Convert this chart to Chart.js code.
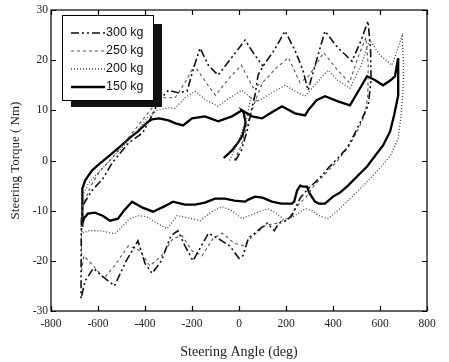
<!DOCTYPE html>
<html>
<head>
<meta charset="utf-8">
<script src="https://cdn.jsdelivr.net/npm/chart.js@4.4.1/dist/chart.umd.min.js"></script>
<style>
  body { margin: 0; background: #fff; }
</style>
</head>
<body>
<canvas id="chart-torque" width="449" height="362"></canvas>
<script>
// steering angle (deg) / steering torque (Nm), one closed loop per load
const angle300 = [-15, 10, 35, 55, 68, 81, 102, 150, 196, 238, 272, 294, 330, 366, 420, 481, 520, 549,
  560, 562, 550, 520, 494, 460, 421, 380, 353, 320, 294, 260, 225, 200, 170, 150, 120, 80, 40, 17, 0,
  -40, -90, -130, -160, -196, -230, -260, -290, -330, -370, -400, -430, -480, -530, -570, -620, -655, -672,
  -672, -671, -665, -626, -579, -540, -500, -470, -410, -370, -340, -300, -260, -221, -196, -166, -130, -89, -40, 26, 60, 102];
const torque300 = [0, 2, 6, 10.4, 13, 17, 18.8, 22, 25.8, 22, 18, 14, 20, 25.8, 22.5, 19.8, 24, 27.8,
  22, 16, 11, 8, 5.5, 2.5, 0.5, -1.5, -3, -4.5, -5.6, -7.5, -11, -12, -12.5, -14, -12.5, -14, -15.5, -19, -19.5,
  -17, -15.5, -14.5, -17, -20, -17, -14, -15, -20, -22.5, -20.5, -16, -20, -25, -23.5, -21.5, -24, -27.5,
  -20, -12, -9, -6, -3.6, -0.5, 1.8, 3.5, 5.5, 9, 12, 14, 13.5, 13.8, 18, 22.4, 19, 17, 20, 24, 21.5, 18.8];

const angle250 = [-20, 10, 40, 70, 100, 160, 210, 260, 300, 360, 420, 470, 510, 540,
  550, 548, 535, 505, 470, 420, 370, 320, 290, 250, 210, 160, 110, 60, 20, -20, -70, -110, -157, -200,
  -242, -280, -330, -380, -420, -470, -530, -575, -620, -660, -670,
  -670, -665, -630, -590, -540, -480, -420, -370, -330, -272, -230, -190, -140, -100, -40, 10, 60, 100];
const torque250 = [0, 3, 8, 12, 15.5, 18.5, 20.5, 15.5, 17, 21.5, 18, 15.5, 21, 24.5,
  19, 13, 9, 6, 3, 0, -2.5, -5, -7, -9, -11.5, -12.5, -13, -15, -17, -16.5, -14.5, -15.5, -19, -18,
  -15, -15.5, -19, -21, -18, -17, -21, -23.5, -21, -19, -22,
  -14, -9, -5, -2, 0.5, 4, 7.5, 10.5, 12.5, 12.5, 15.5, 19, 15.5, 13, 16.5, 19, 14.5, 15.5];

const angle200 = [-40, 0, 30, 50, 81, 140, 196, 240, 281, 330, 379, 420, 472, 520, 556, 600, 651, 694,
  700, 698, 690, 677, 645, 609, 540, 464, 420, 379, 340, 311, 281, 238, 196, 160, 123, 70, 13, -30,
  -72, -115, -166, -210, -264, -306, -350, -392, -430, -464, -528, -591, -640, -668,
  -669, -664, -640, -600, -560, -500, -440, -390, -350, -300, -272, -230, -187, -140, -89, -40, 13, 50, 81];
const torque200 = [0, 4, 8, 12.5, 11.8, 13.5, 15, 13.8, 12.8, 15.5, 18, 16, 14.4, 19, 24, 21, 19, 24.8,
  19, 14.4, 9, 4.4, 1, -1, -4.5, -8, -10, -11.6, -11, -10, -9.6, -11, -12, -10.5, -9.6, -10.5, -11.6, -10,
  -9.2, -10.2, -12, -11.5, -11, -13.6, -12.5, -11.2, -11, -11.6, -14.6, -14, -14, -14.5,
  -10, -7, -4.5, -2.5, -0.5, 2.5, 5.5, 8.5, 10, 10.5, 10.4, 12.5, 13.8, 12, 10.8, 12.5, 14, 12.5, 11.8];

const angle150 = [-65, -30, -5, 15, 28, 20, 13, 55, 98, 140, 183, 238, 281, 294, 330, 366, 421, 472, 510, 545,
  580, 613, 645, 664, 677,
  678, 677, 660, 643, 613, 580, 545, 500, 464, 430, 400, 366, 340, 323, 300, 289, 272, 260, 247, 235, 225,
  180, 140, 100, 68, 40, 26, -20, -60, -102, -145, -187, -230, -281, -320, -366, -410, -455, -490, -515,
  -549, -580, -613, -643, -660, -668,
  -668, -665, -655, -626, -590, -550, -500, -465, -430, -390, -370, -340, -300, -270, -238, -200, -145, -89, -30, 13];
const torque150 = [0.5, 2, 3.5, 5, 7.5, 9.5, 10, 8.8, 8.4, 9.6, 10.8, 9.4, 9, 10, 12, 12.8, 11.8, 11, 14, 16.8,
  16, 15, 16, 16.8, 20.4,
  16, 13, 9, 5.8, 3, 1, -1.2, -3.3, -5, -6.4, -7.2, -8.6, -8.6, -8.2, -6.5, -5.2, -5.2, -5, -6, -8.2, -8.6,
  -8.6, -8.2, -7.4, -7.2, -7.8, -8.2, -8, -7.6, -7.6, -8.4, -8.8, -8.8, -8.2, -9.2, -10.2, -9.4, -8.2, -10, -11.6,
  -12, -11, -10.4, -10.6, -11.5, -13,
  -8, -5.6, -4, -2, -0.5, 1, 3, 4.5, 5.8, 7.6, 8.2, 8.4, 8, 7.4, 7, 8.4, 8.8, 7.8, 8.8, 10];

const loads = ["300 kg", "250 kg", "200 kg", "150 kg"];
const xTicks = [-800, -600, -400, -200, 0, 200, 400, 600, 800];
const yTicks = [-30, -20, -10, 0, 10, 20, 30];

function pts(xs, ys) {
  return xs.map(function (x, i) { return { x: x, y: ys[i] }; });
}

const styles = [
  { color: "#111", width: 1.6, dash: [8, 3, 2, 3, 2, 3] },
  { color: "#555", width: 1.1, dash: [3, 3] },
  { color: "#444", width: 1.3, dash: [1, 2] },
  { color: "#000", width: 2.3, dash: [] },
];
const series = [pts(angle300, torque300), pts(angle250, torque250), pts(angle200, torque200), pts(angle150, torque150)];

// box + inward ticks on all four sides
const framePlugin = {
  id: "frame",
  afterDraw(chart) {
    const c = chart.ctx, a = chart.chartArea;
    const sx = chart.scales.x, sy = chart.scales.y;
    c.save();
    c.strokeStyle = "#000";
    c.lineWidth = 1.2;
    c.strokeRect(a.left, a.top, a.right - a.left, a.bottom - a.top);
    c.beginPath();
    xTicks.forEach(function (v) {
      const p = Math.round(sx.getPixelForValue(v)) + 0.5;
      c.moveTo(p, a.bottom); c.lineTo(p, a.bottom - 5);
      c.moveTo(p, a.top); c.lineTo(p, a.top + 5);
    });
    yTicks.forEach(function (v) {
      const p = Math.round(sy.getPixelForValue(v)) + 0.5;
      c.moveTo(a.left, p); c.lineTo(a.left + 5, p);
      c.moveTo(a.right, p); c.lineTo(a.right - 5, p);
    });
    c.stroke();
    c.restore();
  },
};

// legend box with drop shadow inside the plot
const legendPlugin = {
  id: "boxLegend",
  afterDraw(chart) {
    const c = chart.ctx;
    const x0 = 62, y0 = 15, w = 91, h = 85;
    c.save();
    c.fillStyle = "#111";
    c.fillRect(x0 + 9, y0 + 9, w, h - 2);
    c.fillStyle = "#fff";
    c.fillRect(x0, y0, w, h);
    c.strokeStyle = "#000";
    c.lineWidth = 1;
    c.strokeRect(x0 + 0.5, y0 + 0.5, w, h);
    c.font = "12.5px 'Liberation Sans', Arial, sans-serif";
    c.textBaseline = "middle";
    chart.data.datasets.forEach(function (ds, i) {
      const y = 33 + i * 18;
      c.strokeStyle = ds.borderColor;
      c.lineWidth = ds.borderWidth;
      c.setLineDash(ds.borderDash);
      c.beginPath();
      c.moveTo(71, y); c.lineTo(105, y);
      c.stroke();
      c.setLineDash([]);
      c.fillStyle = "#111";
      c.fillText(ds.label, 106, y);
    });
    c.restore();
  },
};

const ctx = document.getElementById("chart-torque").getContext("2d");

new Chart(ctx, {
  type: "scatter",
  data: {
    datasets: loads.map(function (name, i) {
      return {
        label: name,
        data: series[i],
        showLine: true,
        borderColor: styles[i].color,
        borderWidth: styles[i].width,
        borderDash: styles[i].dash,
        pointRadius: 0,
        tension: 0,
        fill: false,
      };
    }),
  },
  options: {
    responsive: false,
    animation: false,
    layout: { padding: { top: 10, right: 22, left: 0, bottom: 0 } },
    plugins: {
      legend: { display: false },
      tooltip: { enabled: false },
    },
    scales: {
      x: {
        type: "linear",
        min: -800,
        max: 800,
        afterFit(s) { s.height = 51; },
        afterBuildTicks(s) { s.ticks = xTicks.map(function (v) { return { value: v }; }); },
        grid: { display: false, drawTicks: false },
        border: { display: false },
        ticks: {
          padding: 6,
          color: "#222",
          font: { family: "'Liberation Serif', 'Times New Roman', serif", size: 11.5 },
        },
        title: {
          display: true,
          text: "Steering Angle (deg)",
          color: "#222",
          font: { family: "'Liberation Serif', 'Times New Roman', serif", size: 14 },
          padding: { top: 4, bottom: 1 },
        },
      },
      y: {
        type: "linear",
        min: -30,
        max: 30,
        afterFit(s) { s.width = 51; },
        afterBuildTicks(s) { s.ticks = yTicks.map(function (v) { return { value: v }; }); },
        grid: { display: false, drawTicks: false },
        border: { display: false },
        ticks: {
          padding: 3,
          color: "#222",
          font: { family: "'Liberation Serif', 'Times New Roman', serif", size: 11.5 },
        },
        title: {
          display: true,
          text: "Steering Torque ( Nm)",
          color: "#222",
          font: { family: "'Liberation Serif', 'Times New Roman', serif", size: 13 },
          padding: { top: 8, bottom: 0 },
        },
      },
    },
  },
  plugins: [framePlugin, legendPlugin],
});
</script>
</body>
</html>
